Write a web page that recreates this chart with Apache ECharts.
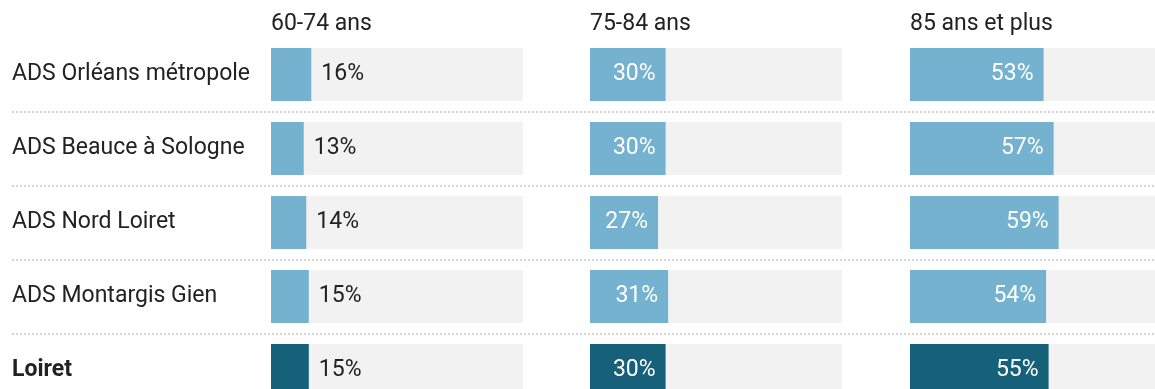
<!DOCTYPE html>
<html>
<head>
<meta charset="utf-8">
<style>
  html, body { margin: 0; padding: 0; background: #fff; }
  #chart { width: 1155px; height: 389px; }
</style>
<script src="https://cdn.jsdelivr.net/npm/echarts@6/dist/echarts.min.js"></script>
</head>
<body>
<div id="chart"></div>
<script>
// Territories, top to bottom
const categories = ['ADS Orléans métropole', 'ADS Beauce à Sologne', 'ADS Nord Loiret', 'ADS Montargis Gien', 'Loiret'];
// Age groups (one panel each)
const ageGroups = ['60-74 ans', '75-84 ans', '85 ans et plus'];
// Share (%) per territory for each age group
const share6074 = [16, 13, 14, 15, 15];
const share7584 = [30, 30, 27, 31, 30];
const share85plus = [53, 57, 59, 54, 55];

const panels = [share6074, share7584, share85plus];
const panelLeft = [271, 590, 910];
const panelWidth = 252;
const gridTop = 37.5;
const bandSize = 74;
const gridHeight = bandSize * categories.length;

const lightBlue = '#75b2d0';
const darkBlue = '#17607a';
const textColor = '#222';
const fontFamily = 'Roboto, "Noto Sans", sans-serif';
const fontSize = 23;

const grids = [];
const xAxes = [];
const yAxes = [];
const series = [];
const titles = [];

panels.forEach((values, p) => {
  grids.push({
    left: panelLeft[p], top: gridTop, width: panelWidth, height: gridHeight,
    containLabel: false, outerBoundsMode: 'none'
  });
  xAxes.push({ type: 'value', gridIndex: p, min: 0, max: 100, show: false });
  yAxes.push({
    type: 'category', gridIndex: p, data: categories, inverse: true,
    axisLine: { show: false }, axisTick: { show: false }, splitLine: { show: false },
    axisLabel: p === 0 ? {
      show: true, align: 'left', margin: panelLeft[0] - 12,
      color: textColor, fontFamily, fontSize,
      formatter: (v) => v === 'Loiret' ? '{b|' + v + '}' : v,
      rich: { b: { fontWeight: 'bold', color: textColor, fontFamily, fontSize } }
    } : { show: false }
  });
  const outside = p === 0;
  series.push({
    type: 'bar', xAxisIndex: p, yAxisIndex: p, barWidth: 53,
    showBackground: true, backgroundStyle: { color: '#f2f2f2' },
    data: values.map((v, i) => ({
      value: v,
      itemStyle: { color: categories[i] === 'Loiret' ? darkBlue : lightBlue }
    })),
    label: {
      show: true,
      position: outside ? 'right' : 'insideRight',
      distance: 10,
      formatter: '{c}%',
      color: outside ? textColor : '#fff',
      fontFamily, fontSize
    },
    silent: true
  });
  titles.push({
    text: ageGroups[p], left: panelLeft[p], top: 13,
    textStyle: { color: textColor, fontFamily, fontSize, fontWeight: 'normal' },
    padding: 0
  });
});

// Full-width grid carrying the dotted separators between rows
grids.push({ left: 12, right: 0, top: gridTop, height: gridHeight, outerBoundsMode: 'none' });
xAxes.push({ type: 'value', gridIndex: 3, show: false });
yAxes.push({
  type: 'category', gridIndex: 3, data: categories, inverse: true,
  axisLine: { show: false }, axisTick: { show: false }, axisLabel: { show: false },
  splitLine: {
    show: true,
    interval: (i) => i > 0,
    lineStyle: { type: [2, 2], color: '#c8c8c8', width: 1.5 }
  }
});

const chart = echarts.init(document.getElementById('chart'), null, { renderer: 'canvas' });
chart.setOption({
  animation: false,
  title: titles,
  grid: grids,
  xAxis: xAxes,
  yAxis: yAxes,
  series
});
</script>
</body>
</html>
